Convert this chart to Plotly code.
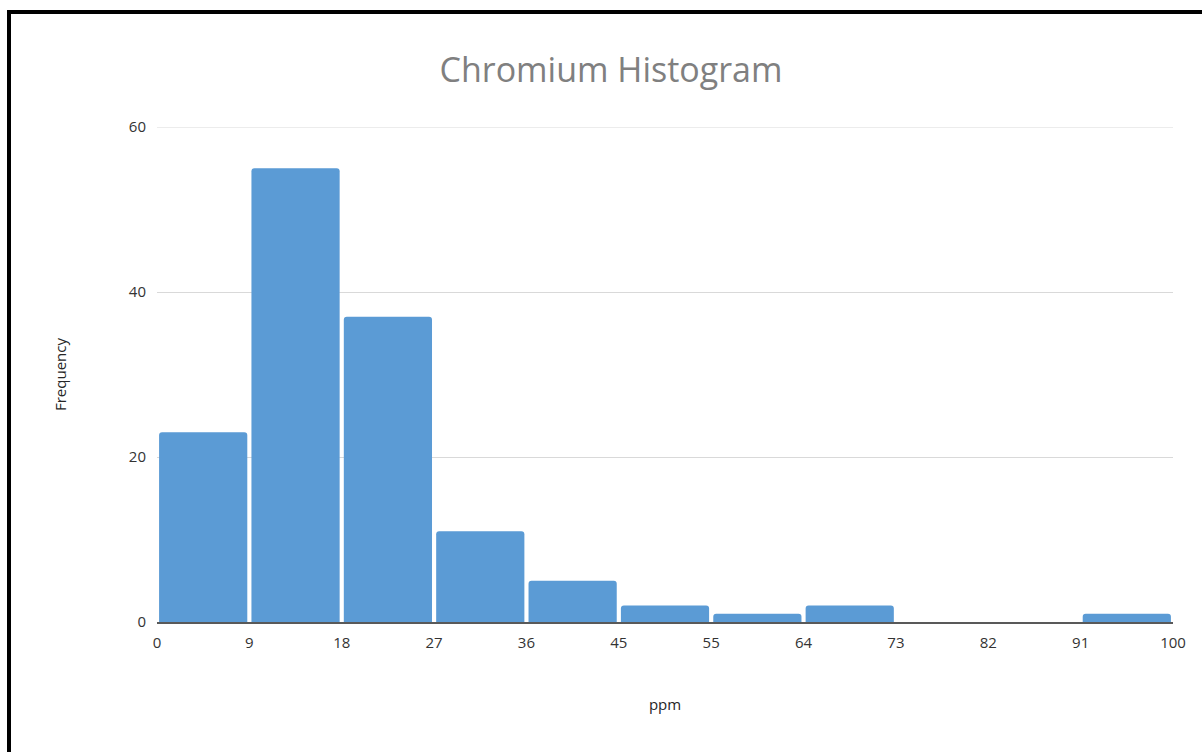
import plotly.graph_objects as go

bin_edges = ["0", "9", "18", "27", "36", "45", "55", "64", "73", "82", "91", "100"]
frequency = [23, 55, 37, 11, 5, 2, 1, 2, 0, 0, 1]
y_ticks = [0, 20, 40, 60]

W, H = 1202, 752
L, R, T, B = 157, 29, 127, 130
pw, ph = W - L - R, H - T - B

def px_x(px):
    return (px - L) / pw

def px_y(py):
    return (H - B - py) / ph

centers = [i + 0.5 for i in range(len(frequency))]

fig = go.Figure()
fig.add_trace(go.Bar(
    x=centers, y=frequency, width=0.955,
    marker=dict(color="#5B9BD5", cornerradius=3, line=dict(width=0)),
    hoverinfo="x+y",
))

fig.update_layout(
    width=W, height=H,
    margin=dict(l=L, r=R, t=T, b=B),
    paper_bgcolor="white", plot_bgcolor="white",
    showlegend=False,
    title=dict(text="Chromium Histogram", x=611 / W, xanchor="center",
               y=1 - 70 / H, yanchor="middle",
               font=dict(family="Open Sans", size=34, color="#808080")),
    font=dict(family="Open Sans", color="#404040"),
    xaxis=dict(range=[0, len(frequency)], tickmode="array",
               tickvals=list(range(len(bin_edges))), ticktext=bin_edges,
               showgrid=False, zeroline=False, showline=True,
               linecolor="#595959", linewidth=2, ticks="",
               ticklabelstandoff=6,
               tickfont=dict(size=15, color="#333333"),
               title=dict(text="ppm", font=dict(size=15, color="#262626"), standoff=48)),
    yaxis=dict(range=[0, 60], tickvals=y_ticks, showgrid=True, gridcolor="#d9d9d9",
               gridwidth=1, zeroline=False, showline=False, ticks="",
               ticklabelstandoff=10,
               tickfont=dict(size=15, color="#333333"),
               title=dict(text="Frequency", font=dict(size=15, color="#262626"), standoff=58)),
)

# top gridline (plotly omits gridlines lying on the plot edge)
fig.add_shape(type="line", xref="paper", yref="y", x0=0, x1=1,
              y0=y_ticks[-1], y1=y_ticks[-1],
              line=dict(color="#d9d9d9", width=1), layer="below")

# black frame (top and left edges) around the chart image
fig.add_shape(type="rect", xref="paper", yref="paper",
              x0=px_x(7), x1=px_x(W + 5), y0=px_y(10), y1=px_y(14),
              fillcolor="black", line=dict(width=0), layer="above")
fig.add_shape(type="rect", xref="paper", yref="paper",
              x0=px_x(7), x1=px_x(11), y0=px_y(10), y1=px_y(H + 5),
              fillcolor="black", line=dict(width=0), layer="above")

fig.write_html("out.html")
